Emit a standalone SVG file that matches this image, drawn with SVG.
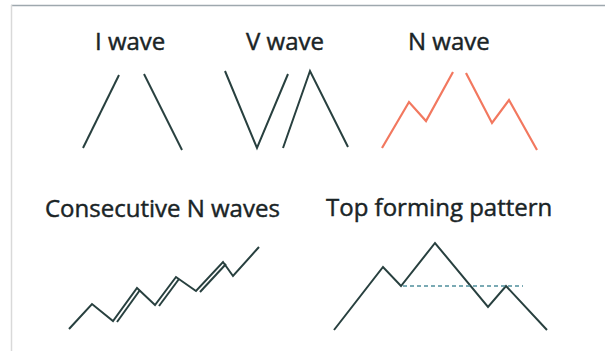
<svg xmlns="http://www.w3.org/2000/svg" width="605" height="351" viewBox="0 0 605 351">
  <style>
    .lbl { font-family: "Open Sans", "Noto Sans", "DejaVu Sans", sans-serif; font-size: 24px; fill: #1a2426; stroke: #1a2426; stroke-width: 0.45; }
    .dk { fill: none; stroke: #28403f; stroke-width: 2; stroke-linejoin: miter; stroke-linecap: butt; }
    .rd { fill: none; stroke: #f2785f; stroke-width: 2.2; stroke-linejoin: miter; }
    .dash { fill: none; stroke: #4f8f9c; stroke-width: 1.6; stroke-dasharray: 4 3; }
  </style>
  <rect x="0" y="0" width="605" height="351" fill="#ffffff"/>
  <g id="frame">
    <line x1="11" y1="5.5" x2="605" y2="5.5" stroke="#9ea8ae" stroke-width="1.5"/>
    <line x1="11.5" y1="5" x2="11.5" y2="351" stroke="#d9d9d9" stroke-width="1.5"/>
  </g>
  <g id="i-wave">
    <text class="lbl" x="95" y="50">I wave</text>
    <polyline class="dk" points="83,148 119,75"/>
    <polyline class="dk" points="144,74 182,150"/>
  </g>
  <g id="v-wave">
    <text class="lbl" x="246" y="50">V wave</text>
    <polyline class="dk" points="225,71 257,148 288,74"/>
    <polyline class="dk" points="283,148 310,71 348,147"/>
  </g>
  <g id="n-wave">
    <text class="lbl" x="408" y="50">N wave</text>
    <polyline class="rd" points="382,148 409,102 426,121 453,72"/>
    <polyline class="rd" points="466,73 492,123 509,100 537,150"/>
  </g>
  <g id="consecutive-n-waves">
    <text class="lbl" x="45" y="217">Consecutive N waves</text>
    <polyline class="dk" points="69,329 92,304 113,321 137,288 155,305 176,277 196,291 223,262 233,276 259,247"/>
    <line class="dk" x1="117" y1="322" x2="140" y2="290"/>
    <line class="dk" x1="159" y1="306" x2="179" y2="279"/>
    <line class="dk" x1="200" y1="292" x2="226" y2="264"/>
  </g>
  <g id="top-forming-pattern">
    <text class="lbl" x="326" y="216">Top forming pattern</text>
    <polyline class="dk" points="334,330 383,267 401,286 435,243 488,307 506,286 547,330"/>
    <line class="dash" x1="403" y1="286" x2="523" y2="286"/>
  </g>
</svg>
